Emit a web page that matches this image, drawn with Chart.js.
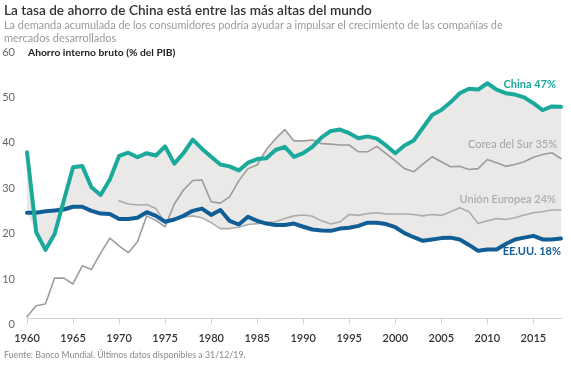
<!DOCTYPE html>
<html lang="es">
<head>
<meta charset="utf-8">
<title>Tasa de ahorro</title>
<script src="https://cdn.jsdelivr.net/npm/chart.js@4.4.1/dist/chart.umd.min.js"></script>
<style>
  html, body { margin: 0; padding: 0; background: #fff; }
  body { width: 571px; height: 373px; position: relative; overflow: hidden; font-family: Lato, "Open Sans", sans-serif; }
  #chart { position: absolute; left: 0; top: 0; }
  .txt { position: absolute; white-space: nowrap; }
  #title { left: 4px; top: 2px; font-size: 13.6px; line-height: 16px; font-weight: 600; color: #333; }
  #subtitle { left: 4px; top: 19px; font-size: 10.9px; line-height: 12.5px; color: #9a9a9a; }
  #ytitle { left: 28px; top: 46px; font-size: 10.3px; line-height: 12px; font-weight: 700; color: #222; }
  #source { left: 4px; top: 349px; font-size: 8.8px; line-height: 12px; color: #888; }
  .serie { font-size: 11px; line-height: 14px; text-align: right; }
</style>
</head>
<body>
<canvas id="chart" width="571" height="373"></canvas>
<div id="title" class="txt">La tasa de ahorro de China está entre las más altas del mundo</div>
<div id="subtitle" class="txt">La demanda acumulada de los consumidores podría ayudar a impulsar el crecimiento de las compañías de<br>mercados desarrollados</div>
<div id="ytitle" class="txt">Ahorro interno bruto (% del PIB)</div>
<div class="txt serie" style="right:15px;top:77px;color:#1aa99b;font-weight:700">China 47%</div>
<div class="txt serie" style="right:14px;top:137px;color:#a3a3a3">Corea del Sur 35%</div>
<div class="txt serie" style="right:15px;top:192px;color:#acacac;font-weight:600">Unión Europea 24%</div>
<div class="txt serie" style="right:10px;top:244px;color:#115d96;font-weight:700">EE.UU. 18%</div>
<div id="source" class="txt">Fuente: Banco Mundial. Últimos datos disponibles a 31/12/19.</div>

<script>
// Datos: ahorro interno bruto (% del PIB)
const years = [
  1960, 1961, 1962, 1963, 1964, 1965, 1966, 1967, 1968, 1969,
  1970, 1971, 1972, 1973, 1974, 1975, 1976, 1977, 1978, 1979,
  1980, 1981, 1982, 1983, 1984, 1985, 1986, 1987, 1988, 1989,
  1990, 1991, 1992, 1993, 1994, 1995, 1996, 1997, 1998, 1999,
  2000, 2001, 2002, 2003, 2004, 2005, 2006, 2007, 2008, 2009,
  2010, 2011, 2012, 2013, 2014, 2015, 2016, 2017, 2018,
];

const china = [
  36.6, 19.0, 15.1, 18.6, 26.0, 33.3, 33.6, 28.9, 27.2, 30.6,
  35.8, 36.5, 35.5, 36.4, 35.9, 37.9, 34.1, 36.4, 39.4, 37.4,
  35.6, 33.9, 33.5, 32.6, 34.3, 35.1, 35.3, 37.1, 37.8, 35.6,
  36.4, 37.8, 39.9, 41.3, 41.6, 40.8, 39.7, 40.1, 39.6, 38.1,
  36.4, 38.1, 39.2, 42.0, 44.8, 45.9, 47.6, 49.6, 50.6, 50.4,
  51.8, 50.4, 49.6, 49.3, 48.7, 47.4, 45.9, 46.7, 46.6,
];

const eeuu = [
  23.3, 23.3, 23.6, 23.8, 24.0, 24.6, 24.6, 23.7, 23.1, 23.0,
  21.9, 21.9, 22.2, 23.4, 22.6, 21.3, 21.8, 22.6, 23.7, 24.2,
  22.8, 23.9, 21.5, 20.7, 22.4, 21.5, 20.9, 20.6, 20.6, 20.9,
  20.2, 19.6, 19.4, 19.3, 19.8, 20.0, 20.4, 21.1, 21.1, 20.8,
  20.1, 18.8, 17.9, 17.1, 17.4, 17.7, 17.8, 17.4, 16.2, 14.9,
  15.2, 15.2, 16.4, 17.4, 17.8, 18.2, 17.4, 17.4, 17.6,
];

const corea = [
  0.4, 2.8, 3.2, 8.9, 8.9, 7.6, 11.6, 10.8, 14.4, 17.7,
  16.0, 14.5, 16.9, 22.6, 21.6, 20.2, 25.2, 28.3, 30.4, 30.5,
  25.7, 25.4, 26.8, 30.3, 33.0, 33.8, 37.2, 39.6, 41.6, 39.1,
  39.1, 39.3, 38.5, 38.4, 38.2, 38.2, 36.7, 36.7, 37.9, 36.3,
  34.7, 33.0, 32.3, 34.0, 35.6, 34.5, 33.4, 33.5, 32.8, 33.0,
  35.0, 34.3, 33.5, 33.9, 34.5, 35.5, 36.1, 36.5, 35.2,
];

const ue = [
  null, null, null, null, null, null, null, null, null, null,
  25.9, 25.2, 25.0, 25.1, 24.2, 21.1, 21.9, 22.3, 22.6, 22.2,
  21.1, 19.8, 19.8, 20.1, 20.7, 20.9, 21.1, 21.3, 22.0, 22.6,
  22.8, 22.5, 21.5, 20.8, 21.3, 22.9, 22.7, 23.1, 23.3, 23.0,
  23.0, 23.0, 22.9, 22.6, 22.9, 22.7, 23.5, 24.4, 23.5, 20.9,
  21.5, 22.0, 21.8, 22.2, 22.8, 23.3, 23.5, 23.9, 23.9,
];

const xTicks = [1960, 1965, 1970, 1975, 1980, 1985, 1990, 1995, 2000, 2005, 2010, 2015];
const yTicks = [0, 10, 20, 30, 40, 50, 60];

// Banda gris: entre el máximo y el mínimo de las series
const bandTop = years.map((_, i) =>
  Math.max(china[i], eeuu[i], corea[i], ue[i] ?? -Infinity));
const bandBottom = years.map((_, i) =>
  Math.min(china[i], eeuu[i], ue[i] ?? Infinity));

function lineSet(label, data, color, width) {
  return {
    label,
    data,
    borderColor: color,
    borderWidth: width,
    pointRadius: 0,
    tension: 0,
    fill: false,
    clip: false,
    borderJoinStyle: "round",
    borderCapStyle: "round",
  };
}

const ctx = document.getElementById("chart").getContext("2d");
new Chart(ctx, {
  type: "line",
  data: {
    labels: years,
    datasets: [
      lineSet("China", china, "#1aa99b", 4),
      lineSet("EE.UU.", eeuu, "#115d96", 4),
      lineSet("Corea del Sur", corea, "#9c9c9c", 1.6),
      lineSet("Unión Europea", ue, "#acacac", 1.6),
      {
        label: "bandTop",
        data: bandTop,
        borderWidth: 0,
        pointRadius: 0,
        tension: 0,
        fill: "+1",
        backgroundColor: "#ebe9e7",
      },
      {
        label: "bandBottom",
        data: bandBottom,
        borderWidth: 0,
        pointRadius: 0,
        tension: 0,
        fill: false,
      },
    ],
  },
  options: {
    responsive: false,
    animation: false,
    layout: { padding: { top: 46, right: 10, left: 0, bottom: 0 } },
    plugins: { legend: { display: false }, tooltip: { enabled: false } },
    scales: {
      x: {
        type: "linear",
        min: 1960,
        max: 2018,
        afterFit: (scale) => { scale.height = 54.5; },
        afterBuildTicks: (scale) => { scale.ticks = xTicks.map((v) => ({ value: v })); },
        grid: { drawOnChartArea: false, drawTicks: true, tickLength: 5, color: "#cfcfcf" },
        border: { color: "#cfcfcf", width: 1 },
        ticks: {
          padding: 8,
          color: "#333",
          font: { family: "Lato", size: 11, weight: 600 },
          callback: (v) => String(v),
        },
      },
      y: {
        min: 0,
        max: 60,
        afterFit: (scale) => { scale.width = 27; },
        afterBuildTicks: (scale) => { scale.ticks = yTicks.map((v) => ({ value: v })); },
        grid: { display: false, drawTicks: false },
        border: { display: false },
        ticks: {
          padding: 12,
          labelOffset: 6,
          color: "#666",
          font: { family: "Lato", size: 11 },
        },
      },
    },
  },
});
</script>
</body>
</html>
